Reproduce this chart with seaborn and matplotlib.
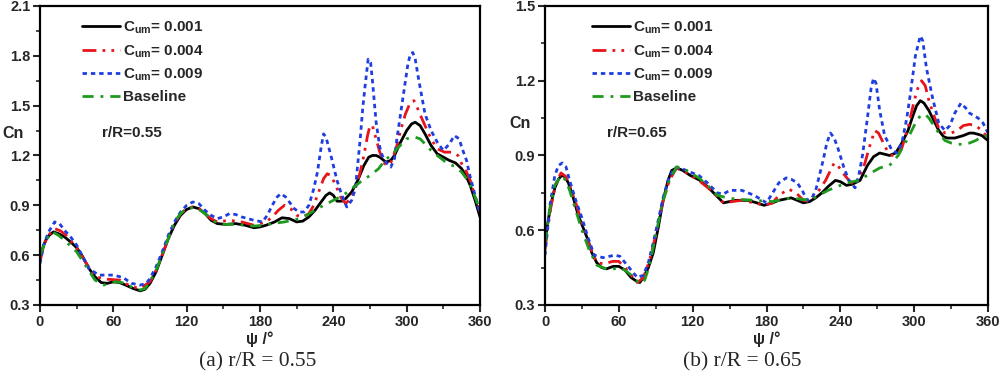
import numpy as np
import pandas as pd
import matplotlib
matplotlib.use("Agg")
import matplotlib.pyplot as plt
import seaborn as sns

# ---------------- data: panel (a) r/R = 0.55 ----------------
a_psi_001 = [0, 3, 6, 11, 15, 20, 25, 30, 35, 40, 45, 50, 55, 60, 65, 70, 76, 82, 86, 90, 95, 100, 105, 110, 115,
             120, 125, 130, 135, 140, 145, 152, 160, 168, 175, 180, 185, 192, 198, 204, 210, 215, 220, 225, 230,
             234, 237, 240, 243, 247, 250, 255, 260, 265, 269, 272, 275, 278, 283, 287, 290, 295, 300, 304, 307,
             311, 315, 320, 325, 330, 335, 340, 345, 349, 352, 356, 360]
a_cn_001 = [0.58, 0.66, 0.71, 0.74, 0.73, 0.71, 0.68, 0.645, 0.59, 0.52, 0.47, 0.435, 0.43, 0.44, 0.435, 0.42,
            0.40, 0.385, 0.395, 0.43, 0.50, 0.60, 0.70, 0.78, 0.84, 0.875, 0.89, 0.88, 0.85, 0.81, 0.79, 0.785,
            0.79, 0.78, 0.765, 0.77, 0.78, 0.80, 0.825, 0.82, 0.80, 0.805, 0.83, 0.87, 0.92, 0.96, 0.975,
            0.96, 0.925, 0.925, 0.94, 0.98, 1.05, 1.14, 1.19, 1.20, 1.20, 1.19, 1.16, 1.17, 1.20, 1.28, 1.35,
            1.39, 1.40, 1.38, 1.33, 1.26, 1.21, 1.19, 1.17, 1.155, 1.12, 1.07, 1.02, 0.93, 0.83]

a_psi_004 = [0, 3, 7, 12, 17, 22, 30, 38, 45, 55, 65, 75, 82, 90, 95, 100, 105, 110, 115, 120, 125, 130, 135, 140,
             145, 150, 155, 165, 175, 185, 190, 195, 200, 205, 210, 215, 220, 224, 228, 232, 235, 238, 242, 246,
             250, 254, 258, 262, 265, 268, 270, 272, 275, 278, 282, 285, 288, 292, 295, 299, 303, 306, 308, 312,
             315, 320, 325, 331, 337, 342, 345, 349, 352, 356, 360]
a_cn_004 = [0.56, 0.66, 0.72, 0.76, 0.745, 0.715, 0.645, 0.55, 0.47, 0.455, 0.45, 0.41, 0.40, 0.44, 0.51,
            0.60, 0.70, 0.79, 0.85, 0.88, 0.89, 0.88, 0.85, 0.82, 0.80, 0.805, 0.81, 0.80, 0.78, 0.80, 0.83,
            0.87, 0.90, 0.88, 0.84, 0.83, 0.85, 0.90, 0.98, 1.06, 1.09, 1.08, 1.02, 0.95, 0.91, 0.94, 1.00,
            1.10, 1.20, 1.32, 1.38, 1.38, 1.30, 1.22, 1.15, 1.14, 1.17, 1.26, 1.35, 1.45, 1.52, 1.53, 1.50,
            1.43, 1.38, 1.30, 1.24, 1.22, 1.22, 1.20, 1.15, 1.10, 1.05, 0.95, 0.86]

a_psi_009 = [0, 3, 7, 12, 16, 20, 25, 30, 35, 40, 48, 55, 60, 68, 75, 82, 87, 90, 95, 100, 105, 110, 115, 120, 125,
             130, 135, 140, 145, 150, 155, 160, 165, 170, 175, 182, 186, 190, 194, 197, 201, 205, 208, 212, 216,
             220, 224, 227, 230, 232, 234, 238, 243, 247, 251, 255, 258, 262, 264, 266, 268.5, 270.5, 272, 275,
             278, 280, 284, 287, 290, 292, 295, 298, 301, 303, 305, 307, 310, 315, 320, 325, 330, 335, 339, 343,
             345, 349, 352, 356, 360]
a_cn_009 = [0.55, 0.66, 0.74, 0.80, 0.79, 0.75, 0.71, 0.66, 0.59, 0.52, 0.48, 0.48, 0.48, 0.465, 0.43, 0.42,
            0.43, 0.46, 0.53, 0.62, 0.72, 0.80, 0.86, 0.90, 0.92, 0.91, 0.87, 0.84, 0.82, 0.83, 0.85, 0.845,
            0.83, 0.82, 0.81, 0.80, 0.84, 0.90, 0.95, 0.97, 0.95, 0.91, 0.88, 0.86, 0.86, 0.90, 1.00, 1.10,
            1.25, 1.33, 1.31, 1.20, 1.05, 0.96, 0.89, 0.93, 1.00, 1.30, 1.48, 1.62, 1.78, 1.76, 1.65, 1.40,
            1.25, 1.20, 1.15, 1.13, 1.18, 1.30, 1.45, 1.60, 1.75, 1.81, 1.82, 1.78, 1.65, 1.45, 1.35, 1.28,
            1.23, 1.27, 1.32, 1.30, 1.25, 1.17, 1.07, 0.96, 0.85]

a_psi_base = [0, 5, 10, 15, 20, 30, 38, 45, 52, 57, 62, 67, 72, 77, 82, 86, 90, 95, 100, 105, 110, 115, 120, 125,
              130, 135, 140, 145, 152, 160, 168, 175, 183, 190, 200, 212, 218, 225, 232, 240, 248, 255, 262, 270,
              277, 283, 288, 292, 296, 300, 304, 307, 311, 315, 320, 325, 332, 340, 345, 350, 355, 360]
a_cn_base = [0.60, 0.69, 0.74, 0.72, 0.69, 0.62, 0.53, 0.45, 0.42, 0.43, 0.44, 0.435, 0.42, 0.40, 0.39, 0.40,
             0.44, 0.51, 0.60, 0.70, 0.80, 0.85, 0.88, 0.885, 0.875, 0.85, 0.82, 0.79, 0.785, 0.785, 0.78,
             0.775, 0.78, 0.79, 0.80, 0.82, 0.84, 0.87, 0.90, 0.93, 0.96, 1.00, 1.04, 1.08, 1.12, 1.18, 1.20,
             1.24, 1.27, 1.30, 1.31, 1.31, 1.30, 1.27, 1.23, 1.20, 1.16, 1.13, 1.10, 1.05, 0.97, 0.87]

# ---------------- data: panel (b) r/R = 0.65 ----------------
b_psi_001 = [0, 2, 4, 6, 8, 11, 13.5, 16, 19, 23, 27, 31, 35, 38, 42, 46, 50, 55.5, 60, 65, 70, 74.5, 77, 80, 84,
             88, 92, 96, 100, 103, 107, 112, 118, 126, 133, 140, 145, 150, 155, 165, 172, 178, 185, 190, 195, 200,
             205, 210, 215, 220, 225, 230, 236, 240, 245, 250, 256, 262, 267, 272, 276, 280, 285, 290, 295, 299,
             302, 305, 308, 312, 316, 320, 324, 327, 333, 340, 345, 348, 352, 355, 360]
b_cn_001 = [0.55, 0.62, 0.68, 0.73, 0.77, 0.805, 0.82, 0.815, 0.79, 0.73, 0.66, 0.61, 0.56, 0.51, 0.47, 0.45,
            0.445, 0.455, 0.455, 0.44, 0.41, 0.395, 0.39, 0.41, 0.45, 0.51, 0.61, 0.72, 0.80, 0.84, 0.85, 0.84,
            0.82, 0.80, 0.77, 0.735, 0.71, 0.715, 0.72, 0.72, 0.71, 0.70, 0.71, 0.72, 0.725, 0.73, 0.72, 0.71,
            0.715, 0.73, 0.75, 0.775, 0.80, 0.795, 0.78, 0.785, 0.80, 0.86, 0.895, 0.91, 0.905, 0.90, 0.91,
            0.95, 1.00, 1.06, 1.10, 1.12, 1.11, 1.08, 1.04, 1.00, 0.975, 0.97, 0.97, 0.98, 0.99, 0.99, 0.985,
            0.98, 0.96]

b_psi_004 = [0, 2, 5, 9, 13, 17, 20, 25, 30, 36, 42, 48, 55, 60, 65, 70, 75, 80, 85, 90, 95, 101, 107, 115, 125,
             135, 145, 152, 160, 170, 178, 185, 190, 198, 204, 210, 215, 220, 224, 228, 232, 235, 238, 242, 247,
             252, 256, 260, 264, 268, 271, 275, 278, 282, 286, 290, 295, 300, 303, 306, 309, 312, 316, 320, 325,
             330, 335, 340, 345, 350, 355, 360]
b_cn_004 = [0.52, 0.60, 0.70, 0.79, 0.83, 0.815, 0.78, 0.71, 0.63, 0.54, 0.47, 0.465, 0.475, 0.475, 0.45,
            0.42, 0.39, 0.41, 0.48, 0.58, 0.70, 0.80, 0.85, 0.83, 0.80, 0.76, 0.71, 0.715, 0.72, 0.71, 0.70,
            0.71, 0.74, 0.765, 0.75, 0.72, 0.715, 0.74, 0.77, 0.80, 0.84, 0.87, 0.86, 0.83, 0.80, 0.78, 0.82,
            0.87, 0.94, 1.00, 0.99, 0.95, 0.92, 0.90, 0.90, 0.93, 1.01, 1.12, 1.17, 1.20, 1.18, 1.12, 1.06,
            1.01, 0.99, 0.99, 1.00, 1.02, 1.025, 1.02, 1.00, 0.97]

b_psi_009 = [0, 2, 4, 8, 11, 14, 17, 20, 25, 30, 35, 40, 47, 52, 57, 61, 65, 70, 75, 80, 84, 88, 92, 96, 100, 105,
             110, 117, 125, 132, 140, 145, 150, 160, 170, 180, 185, 190, 196, 200, 205, 209, 213, 217, 220, 223,
             226, 229, 232, 235, 238, 243, 247, 252, 255, 258, 262, 265, 267, 269, 272, 276, 282, 286, 290, 294,
             297, 301, 305, 307, 310, 315, 320, 325, 329, 333, 338, 342, 345, 352, 356, 360]
b_cn_009 = [0.50, 0.60, 0.70, 0.82, 0.86, 0.87, 0.855, 0.80, 0.72, 0.65, 0.57, 0.50, 0.49, 0.495, 0.50, 0.495,
            0.47, 0.44, 0.41, 0.42, 0.47, 0.55, 0.64, 0.73, 0.80, 0.85, 0.85, 0.835, 0.82, 0.79, 0.75, 0.745,
            0.76, 0.76, 0.74, 0.71, 0.75, 0.79, 0.81, 0.805, 0.79, 0.76, 0.72, 0.73, 0.76, 0.82, 0.88, 0.95,
            0.99, 0.97, 0.93, 0.85, 0.80, 0.77, 0.82, 0.90, 1.05, 1.17, 1.21, 1.19, 1.08, 0.98, 0.92, 0.91,
            0.95, 1.05, 1.15, 1.30, 1.38, 1.36, 1.25, 1.13, 1.03, 1.00, 1.02, 1.07, 1.11, 1.09, 1.07, 1.05,
            1.03, 0.99]

b_psi_base = [0, 4, 8, 13, 17, 20, 25, 30, 36, 42, 47, 52, 56, 60, 65, 70, 74, 77, 81, 85, 90, 95, 101, 107,
              115, 125, 132, 140, 148, 155, 170, 185, 200, 215, 230, 245, 255, 265, 272, 280, 287, 295, 300, 305,
              309, 312, 316, 320, 325, 330, 335, 340, 345, 350, 355, 360]
b_cn_base = [0.55, 0.69, 0.78, 0.82, 0.80, 0.76, 0.68, 0.60, 0.52, 0.46, 0.45, 0.44, 0.445, 0.45, 0.44, 0.42,
             0.40, 0.385, 0.40, 0.46, 0.58, 0.70, 0.80, 0.855, 0.84, 0.81, 0.78, 0.74, 0.73, 0.725, 0.72, 0.715,
             0.73, 0.72, 0.76, 0.79, 0.80, 0.83, 0.85, 0.86, 0.90, 0.97, 1.02, 1.06, 1.065, 1.05, 1.02, 0.99,
             0.96, 0.95, 0.945, 0.945, 0.95, 0.96, 0.975, 0.98]

series_names = ["C001", "C004", "C009", "Baseline"]
legend_labels = [r"$\mathbf{C}_{\mathbf{um}}$= 0.001", r"$\mathbf{C}_{\mathbf{um}}$= 0.004",
                 r"$\mathbf{C}_{\mathbf{um}}$= 0.009", "Baseline"]
x_ticks = [0, 60, 120, 180, 240, 300, 360]
a_yticks = [0.3, 0.6, 0.9, 1.2, 1.5, 1.8, 2.1]
b_yticks = [0.3, 0.6, 0.9, 1.2, 1.5]
captions = ["(a) r/R = 0.55", "(b) r/R = 0.65"]
inner_labels = ["r/R=0.55", "r/R=0.65"]

# ---------------- styling ----------------
sns.set_style("ticks")
plt.rcParams["font.family"] = ["Liberation Sans", "DejaVu Sans"]
plt.rcParams["font.weight"] = "bold"
plt.rcParams["mathtext.fontset"] = "custom"
plt.rcParams["mathtext.bf"] = "Liberation Sans:bold"
plt.rcParams["mathtext.rm"] = "Liberation Sans:bold"

palette = {"C001": "#000000", "C004": "#e8141b", "C009": "#1f3ee0", "Baseline": "#1e9a1e"}
dashes = {"C001": "", "C004": (5, 2.2, 1, 2.2, 1, 2.2), "C009": (1.6, 1.4), "Baseline": (4, 2.5, 1, 2.5)}


def make_df(psis, vals):
    frames = []
    for name, p, v in zip(series_names, psis, vals):
        frames.append(pd.DataFrame({"psi": p, "Cn": v, "series": name}))
    return pd.concat(frames, ignore_index=True)


df_a = make_df([a_psi_001, a_psi_004, a_psi_009, a_psi_base], [a_cn_001, a_cn_004, a_cn_009, a_cn_base])
df_b = make_df([b_psi_001, b_psi_004, b_psi_009, b_psi_base], [b_cn_001, b_cn_004, b_cn_009, b_cn_base])

fig = plt.figure(figsize=(10, 3.83), dpi=100)
ax_a = fig.add_axes([0.040, 0.2037, 0.440, 0.7807])
ax_b = fig.add_axes([0.545, 0.2037, 0.443, 0.7807])

panels = [(ax_a, df_a, a_yticks), (ax_b, df_b, b_yticks)]

for i, (ax, df, yt) in enumerate(panels):
    sns.lineplot(data=df, x="psi", y="Cn", hue="series", style="series", hue_order=series_names,
                 style_order=series_names, palette=palette, dashes=dashes, estimator=None, sort=True,
                 linewidth=2.0, ax=ax, legend=False)
    for ln in ax.lines:
        ln.set_solid_joinstyle("round")
        ln.set_dash_joinstyle("round")
    ax.set_xlim(0, 360)
    ax.set_ylim(yt[0], yt[-1])
    ax.set_xticks(x_ticks)
    ax.set_xticks(np.arange(30, 360, 60), minor=True)
    ax.set_yticks(yt)
    ax.set_yticks(np.arange(yt[0] + 0.15, yt[-1], 0.3), minor=True)
    ax.set_yticklabels([f"{v:.1f}" for v in yt])
    ax.tick_params(axis="both", which="major", direction="out", length=5, width=1.5, labelsize=10.5, pad=2)
    ax.tick_params(axis="both", which="minor", direction="out", length=3, width=1.2)
    for lab in ax.get_xticklabels() + ax.get_yticklabels():
        lab.set_fontweight("bold")
    for sp in ax.spines.values():
        sp.set_visible(True)
        sp.set_linewidth(1.6)
        sp.set_color("black")
    ax.set_xlabel("ψ /°", fontsize=11.5, fontweight="bold", labelpad=2)
    ax.set_ylabel("")

    handles = [plt.Line2D([], [], color=palette[n], linewidth=2.0,
                          linestyle="-" if dashes[n] == "" else (0, dashes[n])) for n in series_names]
    ax.legend(handles, legend_labels, loc="upper left", bbox_to_anchor=(0.075 if i == 0 else 0.085, 0.985),
              frameon=False, prop={"weight": "bold", "size": 11}, handlelength=2.5, handletextpad=0.2,
              labelspacing=0.45, borderaxespad=0.2)
    ax.text(0.14, 0.575, inner_labels[i], transform=ax.transAxes, fontsize=11,
            fontweight="bold", va="center", ha="left")

fig.text(0.002, 1 - 133 / 383, "Cn", fontsize=11.5, fontweight="bold", va="center", ha="left")
fig.text(0.509, 1 - 123 / 383, "Cn", fontsize=11.5, fontweight="bold", va="center", ha="left")
fig.text(0.258, 1 - 362 / 383, captions[0], fontsize=15.5, family="Liberation Serif", fontweight="normal",
         va="center", ha="center")
fig.text(0.742, 1 - 362 / 383, captions[1], fontsize=15.5, family="Liberation Serif", fontweight="normal",
         va="center", ha="center")

fig.savefig("out.png", dpi=100)
